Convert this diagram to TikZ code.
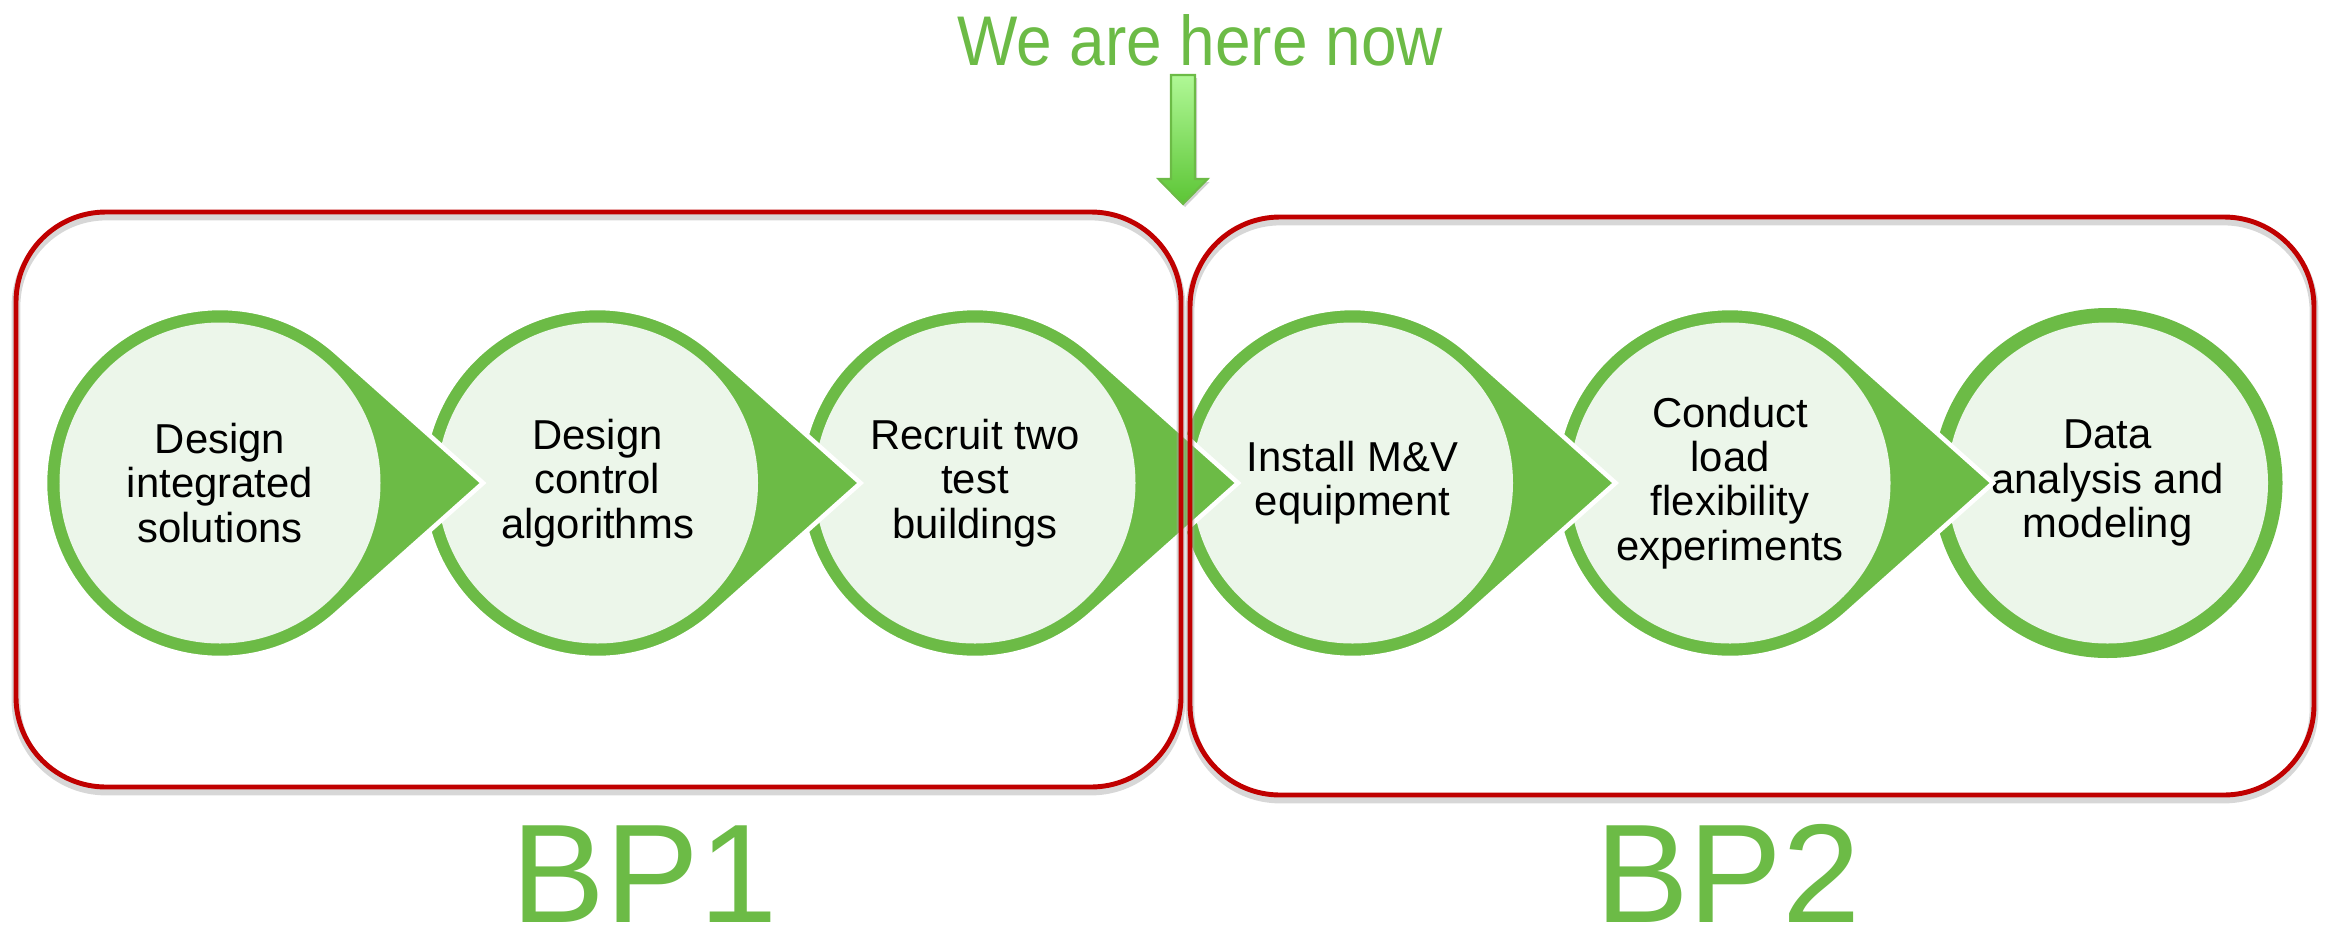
\documentclass[tikz,border=0pt]{standalone}
\usepackage{fontspec}
\setmainfont{Liberation Sans}
\usepackage{graphicx}
\usetikzlibrary{calc}
\definecolor{leafgreen}{HTML}{6CBB46}
\definecolor{palegreen}{HTML}{ECF6EA}
\definecolor{boxred}{HTML}{C00000}
\definecolor{arrowtop}{HTML}{B0F896}
\definecolor{arrowbot}{HTML}{5CC535}
\tikzset{
	tear/.style={fill=leafgreen, draw=white, line width=1.3pt},
	stepdisc/.style={circle, fill=palegreen, minimum size=3.21cm, inner sep=0pt, align=center,
		font=\fontsize{11.9}{12.6}\selectfont},
	phasebox/.style={draw=boxred, line width=1.4pt, rounded corners=0.9cm},
	boxshadow/.style={draw=black!35, line width=2.5pt, rounded corners=0.9cm, opacity=0.45},
	phaselabel/.style={text=leafgreen, font=\fontsize{40}{40}\selectfont, anchor=base, inner sep=0pt}
}

\begin{document}
\begin{tikzpicture}
		\useasboundingbox (0,0) rectangle (23.26,9.31);
		
		% last step has no tip
		\coordinate (c6) at (21.075,4.48);
		\fill[leafgreen] (c6) circle (1.75);
		\node[stepdisc] (s6) at (c6) {Data\\analysis and\\modeling};
		% right to left, so each tip lies over the next disc
		\foreach \i/\x/\txt in {5/17.30/{Conduct\\load\\flexibility\\experiments},
			4/13.525/{Install M\&V\\equipment}, 3/9.75/{Recruit two\\test\\buildings},
			2/5.975/{Design\\control\\algorithms}, 1/2.20/{Design\\integrated\\solutions}}{
			\coordinate (c\i) at (\x,4.48);
			\coordinate (t\i) at ($(c\i)+(2.63,0)$);
			\filldraw[tear] ($(c\i)+(48.28:1.75)$) -- (t\i) -- ($(c\i)+(-48.28:1.75)$)
			arc[start angle=-48.28, end angle=-311.72, radius=1.75] -- cycle;
			\node[stepdisc] (s\i) at (c\i) {\txt};
		}
		
		% the two budget periods
		\draw[boxshadow] (0.16,1.40) rectangle (11.81,7.15);
		\draw[phasebox] (0.16,1.44) rectangle (11.81,7.19);
		\draw[boxshadow] (11.90,1.32) rectangle (23.14,7.10);
		\draw[phasebox] (11.90,1.36) rectangle (23.14,7.14);
		\node[phaselabel] (bp1) at (6.445,0.09) {BP1};
		\node[phaselabel] (bp2) at (17.28,0.09) {BP2};
		
		% marker
		\node[text=leafgreen, font=\fontsize{18.2}{20}\selectfont, anchor=base] (now) at (12.0,8.66)
		{\scalebox{1}[1.1]{We are here now}};
		\coordinate (here) at (11.83,7.27);
		\fill[black, opacity=0.18] ($(here)+(0.02,-0.03)$) -- ++(-0.245,0.25) -- ++(0.125,0) -- ++(0,1.04)
		-- ++(0.24,0) -- ++(0,-1.04) -- ++(0.125,0) -- cycle;
		\shade[top color=arrowtop, bottom color=arrowbot, draw=leafgreen, line width=0.6pt]
		(here) -- ++(-0.245,0.25) -- ++(0.125,0) -- ++(0,1.04) -- ++(0.24,0) -- ++(0,-1.04)
		-- ++(0.125,0) -- cycle;
\end{tikzpicture}
\end{document}
